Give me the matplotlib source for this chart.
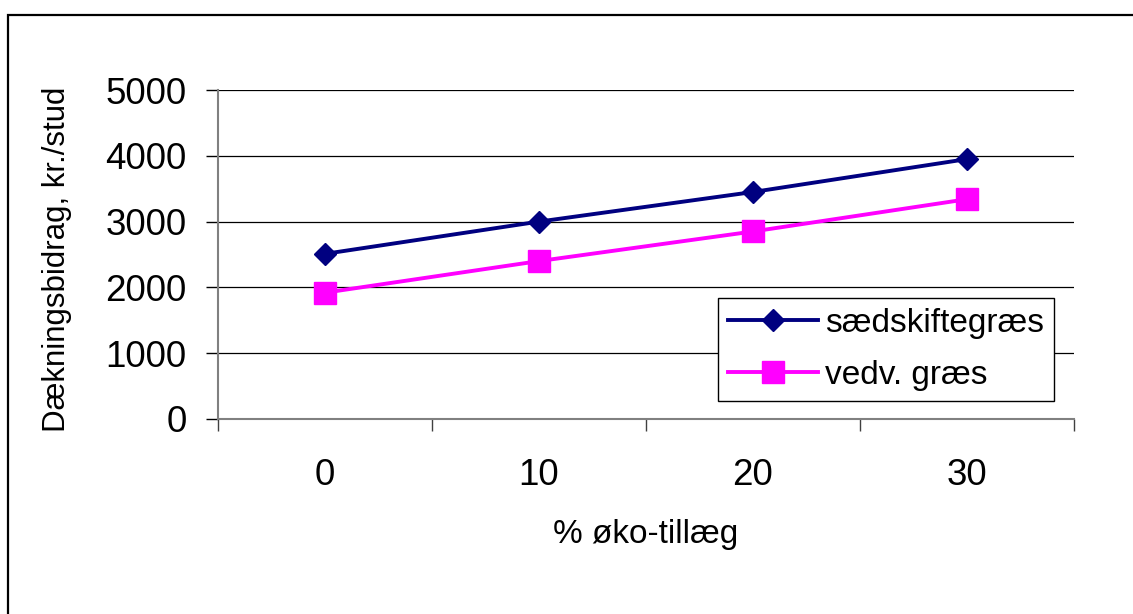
import matplotlib
matplotlib.use("Agg")
import matplotlib.pyplot as plt
from matplotlib.patches import Rectangle

plt.rcParams["font.family"] = ["Liberation Sans", "DejaVu Sans"]

# Dækningsbidrag pr. stud ved forskelligt øko-tillæg
tillaeg = ["0", "10", "20", "30"]
saedskiftegraes = [2510, 3000, 3450, 3950]
vedv_graes = [1920, 2400, 2850, 3340]
y_ticks = [0, 1000, 2000, 3000, 4000, 5000]

W, H = 1133, 614
fig = plt.figure(figsize=(W / 100, H / 100), dpi=100)

# plotområde i pixel: venstre 218, højre 1074, top 90, bund 419
ax = fig.add_axes([218 / W, 1 - 419 / H, (1074 - 218) / W, (419 - 90) / H])

x = range(len(tillaeg))
ax.plot(x, saedskiftegraes, color="#000080", lw=2.8, marker="D", ms=11.5,
        label="sædskiftegræs", zorder=3)
ax.plot(x, vedv_graes, color="#FF00FF", lw=2.8, marker="s", ms=16.5,
        label="vedv. græs", zorder=3)

ax.set_xlim(-0.5, len(tillaeg) - 0.5)
ax.set_ylim(0, 5000)

# kategorier midt mellem tick-mærkerne
ax.set_xticks(list(x), tillaeg)
ax.set_xticks([i - 0.5 for i in range(len(tillaeg) + 1)], minor=True)
ax.tick_params(axis="x", which="major", length=0, pad=28, labelsize=26.5)
ax.tick_params(axis="x", which="minor", length=8.6, width=1.0, color="#404040",
               direction="out")

ax.set_yticks(y_ticks)
ax.tick_params(axis="y", length=8.6, width=1.0, color="black", pad=14,
               labelsize=26.5)

ax.grid(axis="y", color="black", lw=0.9)
ax.set_axisbelow(True)
for side in ["top", "right"]:
    ax.spines[side].set_visible(False)
for side in ["left", "bottom"]:
    ax.spines[side].set_color("#808080")
    ax.spines[side].set_linewidth(1.5)

fig.text(57 / W, 1 - 259 / H, "Dækningsbidrag, kr./stud", rotation=90,
         ha="center", va="center", fontsize=22.5)
fig.text(646 / W, 1 - 543 / H, "% øko-tillæg", ha="center", va="baseline",
         fontsize=24)

leg = ax.legend(loc="upper left", bbox_to_anchor=(718 / W, 1 - 298 / H),
                bbox_transform=fig.transFigure, borderaxespad=0,
                fontsize=24, handlelength=2.7, handletextpad=0.2,
                labelspacing=0.62, borderpad=0.3, fancybox=False,
                framealpha=1, edgecolor="black")
leg.get_frame().set_linewidth(1.0)

# ramme rundt om hele diagrammet
fig.patches.append(Rectangle((8 / W, -0.1), 1.2, 1.1 - 15 / H, fill=False,
                             edgecolor="black", lw=1.6,
                             transform=fig.transFigure, figure=fig))

fig.savefig("out.png", dpi=100)
